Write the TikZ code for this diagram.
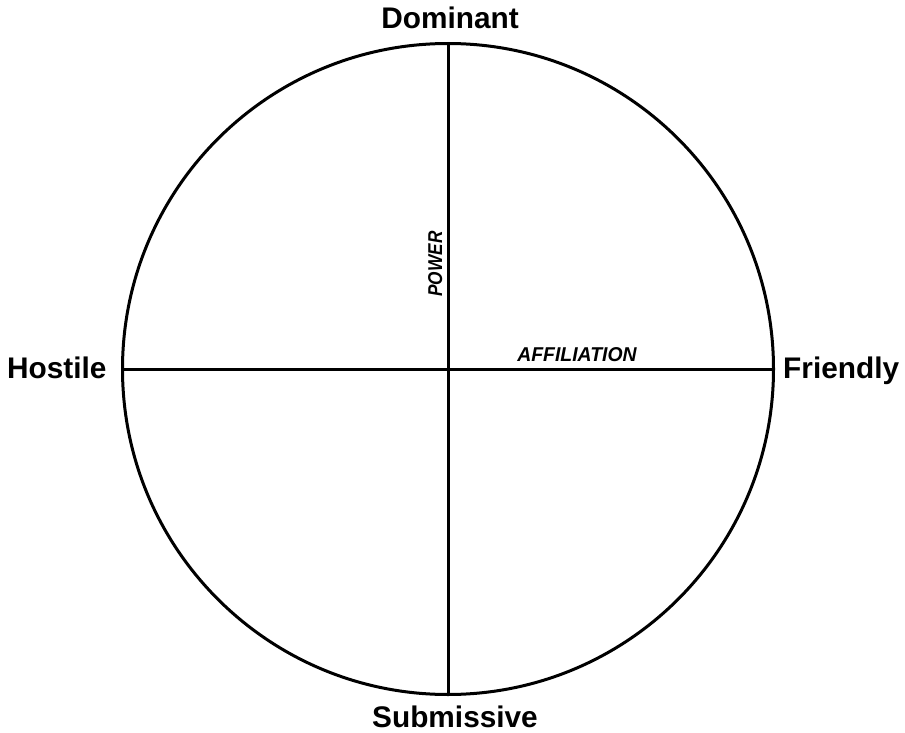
\documentclass[tikz,border=0pt]{standalone}
\usepackage{fontspec}
\setmainfont{Liberation Sans}
\begin{document}
\begin{tikzpicture}[x=1pt,y=-1pt,
  pole/.style={font=\fontsize{29.8}{32}\selectfont\bfseries, inner sep=0pt, anchor=base},
  axislabel/.style={font=\fontsize{20}{22}\selectfont\bfseries\itshape, inner sep=0pt, anchor=base},
  axisline/.style={line width=3pt}]
\useasboundingbox[fill=white] (0,0) rectangle (905,733);
\node[circle, draw, line width=3pt, minimum size=651pt, inner sep=0pt] (c) at (448,369) {};
\draw[axisline] (c.north) -- (c.south);
\draw[axisline] (c.west) -- (c.east);
\node[pole] (dom) at (450,29) {Dominant};
\node[pole] (sub) at (455,727) {Submissive};
\node[pole, anchor=base west] (hos) at (7,378) {Hostile};
\node[pole, anchor=base west] (fri) at (783,378) {Friendly};
\node[axislabel, xscale=0.97] (aff) at (577,361) {AFFILIATION};
\node[axislabel, rotate=90, xscale=0.86] (pow) at (442,264) {POWER};
\end{tikzpicture}
\end{document}
